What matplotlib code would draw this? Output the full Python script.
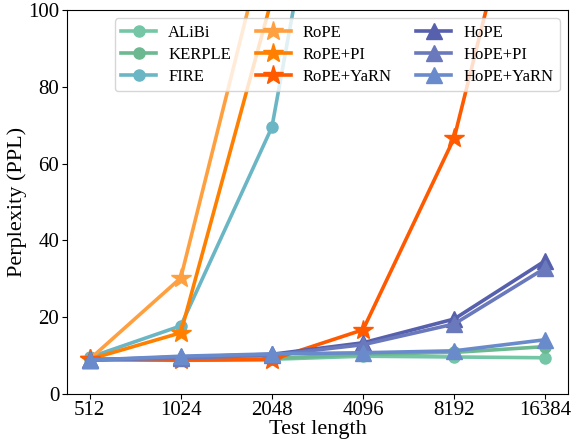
import matplotlib.pyplot as plt

plt.rcParams['font.family'] = ['Liberation Serif', 'DejaVu Serif']

lengths = ['512', '1024', '2048', '4096', '8192', '16384']

alibi = [9.0, 8.7, 9.0, 9.8, 9.6, 9.4]
kerple = [9.0, 8.8, 9.2, 10.3, 10.8, 12.3]
fire = [9.5, 17.7, 69.5, 200.0, 400.0, 800.0]
rope = [9.0, 30.2, 125.0, 400.0, 800.0, 1600.0]
rope_pi = [9.0, 15.9, 103.0, 400.0, 800.0, 1600.0]
rope_yarn = [9.0, 8.8, 8.9, 16.7, 66.7, 162.0]
hope = [8.8, 9.6, 10.3, 13.3, 19.5, 34.7]
hope_pi = [8.8, 9.3, 10.1, 12.8, 18.2, 32.8]
hope_yarn = [8.8, 9.8, 10.4, 10.7, 11.2, 14.1]

series = [
    ('ALiBi', alibi, '#74c6a6', 'o', 8),
    ('KERPLE', kerple, '#6cb890', 'o', 8),
    ('FIRE', fire, '#6bb6c4', 'o', 8),
    ('RoPE', rope, '#ffa040', '*', 15),
    ('RoPE+PI', rope_pi, '#ff8000', '*', 15),
    ('RoPE+YaRN', rope_yarn, '#ff5a00', '*', 15),
    ('HoPE', hope, '#5660ad', '^', 12),
    ('HoPE+PI', hope_pi, '#6a78bc', '^', 12),
    ('HoPE+YaRN', hope_yarn, '#6a8bcb', '^', 12),
]

fig, ax = plt.subplots(figsize=(5.71, 4.41), dpi=100)
x = range(len(lengths))
for name, vals, color, marker, ms in series:
    ax.plot(x, vals, color=color, marker=marker, markersize=ms, linewidth=2.6, label=name)

ax.set_ylim(0, 100)
ax.set_xlim(-0.25, 5.25)
ax.set_xticks(list(x))
ax.set_xticklabels(lengths)
ax.set_yticks([0, 20, 40, 60, 80, 100])
ax.tick_params(labelsize=15, pad=2)
ax.set_xlabel('Test length', fontsize=16, labelpad=0)
ax.set_ylabel('Perplexity (PPL)', fontsize=16, labelpad=1)
ax.legend(ncol=3, loc='upper right', fontsize=12, handlelength=2.1,
          handletextpad=0.7, columnspacing=1.5, labelspacing=0.35,
          borderaxespad=0.5)

fig.subplots_adjust(left=0.117, right=0.995, top=0.977, bottom=0.107)
fig.savefig('out.png', dpi=100)
